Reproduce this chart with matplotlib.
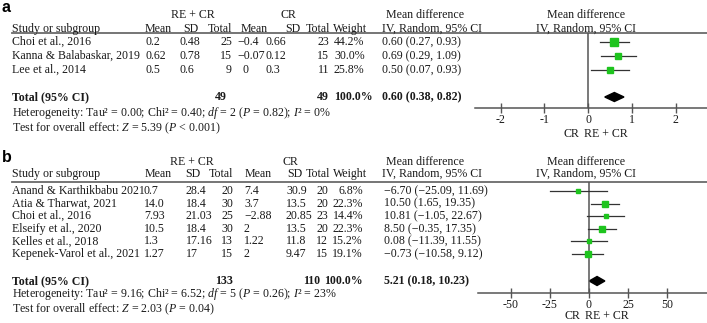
import numpy as np
import matplotlib
matplotlib.use("Agg")
import matplotlib.pyplot as plt
from matplotlib.patches import Polygon

plt.rcParams['font.family'] = ['Liberation Serif', 'DejaVu Serif']
plt.rcParams['mathtext.fontset'] = 'custom'
plt.rcParams['mathtext.rm'] = 'Liberation Serif'
plt.rcParams['mathtext.it'] = 'Liberation Serif:italic'
plt.rcParams['mathtext.bf'] = 'Liberation Serif:bold'

# ---- panel a data
a_studies = ["Choi et al., 2016", "Kanna & Balabaskar, 2019", "Lee et al., 2014"]
a_mean1 = ["0.2", "0.62", "0.5"]
a_sd1 = ["0.48", "0.78", "0.6"]
a_n1 = [25, 15, 9]
a_mean2 = ["\u22120.4", "\u22120.07", "  0"]
a_sd2 = ["0.66", "0.12", "0.3"]
a_n2 = [23, 15, 11]
a_weight = [44.2, 30.0, 25.8]
a_md = [0.60, 0.69, 0.50]
a_lo = [0.27, 0.29, 0.07]
a_hi = [0.93, 1.09, 0.93]
a_total = (0.60, 0.38, 0.82)
a_ticks = [-2, -1, 0, 1, 2]

# ---- panel b data
b_studies = ["Anand & Karthikbabu 2021", "Atia & Tharwat, 2021", "Choi et al., 2016",
             "Elseify et al., 2020", "Kelles et al., 2018", "Kepenek-Varol et al., 2021"]
b_mean1 = ["0.7", "14.0", "7.93", "10.5", "1.3", "1.27"]
b_sd1 = ["28.4", "18.4", "21.03", "18.4", "17.16", "17"]
b_n1 = [20, 30, 25, 30, 13, 15]
b_mean2 = ["7.4", "3.7", "\u22122.88", "2", "1.22", "2"]
b_sd2 = ["30.9", "13.5", "20.85", "13.5", "11.8", "9.47"]
b_n2 = [20, 20, 23, 20, 12, 15]
b_weight = [6.8, 22.3, 14.4, 22.3, 15.2, 19.1]
b_md = [-6.70, 10.50, 10.81, 8.50, 0.08, -0.73]
b_lo = [-25.09, 1.65, -1.05, -0.35, -11.39, -10.58]
b_hi = [11.69, 19.35, 22.67, 17.35, 11.55, 9.12]
b_total = (5.21, 0.18, 10.23)
b_ticks = [-50, -25, 0, 25, 50]

W, H = 707, 323
FS = 8.6
TXT = '#1a1a1a'
GREEN = '#1ec41e'

fig = plt.figure(figsize=(W / 100, H / 100), dpi=100)
bg = fig.add_axes([0, 0, 1, 1])
bg.set_xlim(0, W)
bg.set_ylim(H, 0)
bg.axis('off')


def t(x, y, s, ha='left', bold=False, size=FS, **kw):
    bg.text(x, y, s, ha=ha, va='center', fontsize=size, color=TXT,
            fontweight='bold' if bold else 'normal', **kw)


def fmt(v):
    return f"{v:.2f}".replace('-', '\u2212')


def panel(label, y_top, studies, mean1, sd1, n1, mean2, sd2, n2, weight,
          md, lo, hi, total, ticks, cols, rows_y, tot_y, het, test, box, xlim):
    # headers
    bg.text(2, y_top, label, ha='left', va='center', fontsize=11.5,
            fontweight='bold', family='Liberation Sans', color='black')
    gy = y_top + cols['gdy']
    hy = gy + cols['hdy']
    t(cols['g1'], gy, "RE + CR", ha='center')
    t(cols['g2'], gy, "CR", ha='center')
    t(425, gy, "Mean difference", ha='center')
    t(586, gy, "Mean difference", ha='center')
    t(12, hy, "Study or subgroup")
    t(cols['hmean1'], hy, "Mean", ha='center')
    t(cols['hsd1'], hy, "SD", ha='right')
    t(cols['htot1'], hy, "Total", ha='right')
    t(cols['hmean2'], hy, "Mean", ha='center')
    t(cols['hsd2'], hy, "SD", ha='right')
    t(cols['htot2'], hy, "Total", ha='right')
    t(333, hy, "Weight")
    t(382, hy, "IV, Random, 95% CI")
    t(586, hy, "IV, Random, 95% CI", ha='center')
    line_y = box[1]
    bg.plot([12, W], [line_y, line_y], color='#6a6a6a', lw=1.3)

    for i, s in enumerate(studies):
        y = rows_y[i]
        t(12, y, s)
        t(cols['mean1'], y, mean1[i])
        t(cols['sd1'], y, sd1[i])
        t(cols['tot1'], y, str(n1[i]), ha=cols['tot1_ha'])
        t(cols['mean2'], y, mean2[i])
        t(cols['sd2'], y, sd2[i])
        t(cols['tot2'], y, str(n2[i]), ha='right')
        t(cols['w'], y, f"{weight[i]:.1f}%", ha=cols['w_ha'])
        t(cols['md'], y, f"{fmt(md[i])} ({fmt(lo[i])}, {fmt(hi[i])})")

    t(12, tot_y, "Total (95% CI)", bold=True)
    t(cols['ttot1'], tot_y, str(sum(n1)), ha='right', bold=True)
    t(cols['ttot2'], tot_y, str(sum(n2)), ha='right', bold=True)
    t(cols['w'], tot_y, "100.0%", ha=cols['w_ha'], bold=True)
    t(cols['md'], tot_y, f"{fmt(total[0])} ({fmt(total[1])}, {fmt(total[2])})", bold=True)
    t(12, tot_y + cols['hetdy'], het)
    t(12, tot_y + cols['hetdy'] + cols['testdy'], test)

    # forest plot
    x0, y0, x1, y1 = box
    ax = fig.add_axes([x0 / W, 1 - y1 / H, (x1 - x0) / W, (y1 - y0) / H])
    ax.set_xlim(*xlim)
    ax.set_ylim(y1, y0)
    ax.patch.set_alpha(0)
    for sp in ['top', 'right', 'left']:
        ax.spines[sp].set_visible(False)
    ax.spines['bottom'].set_color('#555555')
    ax.spines['bottom'].set_linewidth(1.1)
    ax.set_yticks([])
    ax.set_xticks(ticks)
    ax.set_xticklabels([str(v) for v in ticks])
    ax.tick_params(axis='x', direction='inout', length=7, width=1, color='#555555',
                   labelsize=FS, labelcolor=TXT, pad=1)
    ax.axvline(0, color='#555555', lw=1.1)
    for i in range(len(studies)):
        y = rows_y[i]
        ax.plot([lo[i], hi[i]], [y, y], color='#333333', lw=0.9)
        ax.plot(md[i], y, marker='s', color=GREEN, ms=1.2 * np.sqrt(weight[i]) * 0.72,
                mec=GREEN, ls='none')
    m, l, h = total
    ax.add_patch(Polygon([(l, tot_y), (m, tot_y - 4.5), (h, tot_y), (m, tot_y + 4.5)],
                         closed=True, color='black'))
    off = cols['crdy']
    ax.annotate("CR", xy=(0, 0), xycoords=('data', 'axes fraction'),
                xytext=(-6, off), textcoords='offset points', ha='right', va='center',
                fontsize=FS, color=TXT)
    ax.annotate("RE + CR", xy=(0, 0), xycoords=('data', 'axes fraction'),
                xytext=(-3, off), textcoords='offset points', ha='left', va='center',
                fontsize=FS, color=TXT)


a_cols = dict(gdy=8, hdy=14, g1=193, g2=288, hmean1=158, hsd1=198, htot1=232, hmean2=254,
              hsd2=300, htot2=330, mean1=146, sd1=180, tot1=232, tot1_ha='right',
              mean2=237, sd2=265, tot2=329, w=334, w_ha='left', md=382,
              ttot1=227, ttot2=329, hetdy=16, testdy=15, crdy=-18.5)
panel("a", 7, a_studies, a_mean1, a_sd1, a_n1, a_mean2, a_sd2, a_n2, a_weight,
      a_md, a_lo, a_hi, a_total, a_ticks, a_cols, [42, 56, 70], 97,
      "Heterogeneity: Tau\u00b2 = 0.00; Chi\u00b2 = 0.40; $\\mathit{df}$ = 2 ($\\mathit{P}$ = 0.82); $\\mathit{I}$\u00b2 = 0%",
      "Test for overall effect: $\\mathit{Z}$ = 5.39 ($\\mathit{P}$ < 0.001)",
      (475, 33, W, 108), (-2.59, 2.72))

b_cols = dict(gdy=4, hdy=12, g1=192, g2=290, hmean1=158, hsd1=200, htot1=233, hmean2=258,
              hsd2=303, htot2=330, mean1=144, sd1=186, tot1=221, tot1_ha='left',
              mean2=244, sd2=286, tot2=328, w=363, w_ha='right', md=384,
              ttot1=233, ttot2=320, hetdy=13, testdy=15, crdy=-16.5)
panel("b", 158, b_studies, b_mean1, b_sd1, b_n1, b_mean2, b_sd2, b_n2, b_weight,
      b_md, b_lo, b_hi, b_total, b_ticks, b_cols,
      [191, 203.6, 216.2, 228.8, 241.4, 254], 281,
      "Heterogeneity: Tau\u00b2 = 9.16; Chi\u00b2 = 6.52; $\\mathit{df}$ = 5 ($\\mathit{P}$ = 0.26); $\\mathit{I}$\u00b2 = 23%",
      "Test for overall effect: $\\mathit{Z}$ = 2.03 ($\\mathit{P}$ = 0.04)",
      (478, 182, W, 293), (-71, 75.6))

fig.savefig("out.png", dpi=100)
